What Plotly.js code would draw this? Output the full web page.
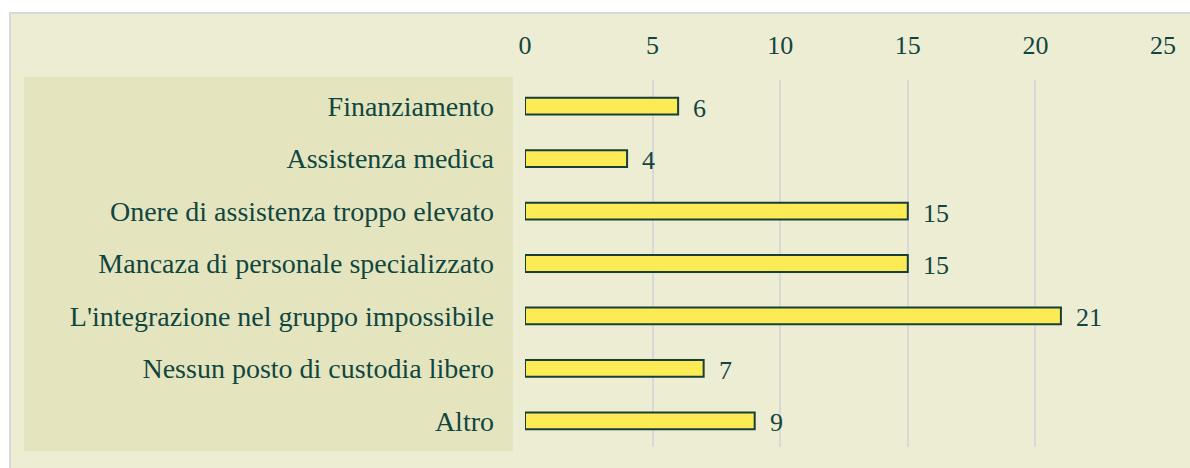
<!DOCTYPE html>
<html>
<head>
<meta charset="utf-8">
<script src="https://cdn.plot.ly/plotly-3.0.1.min.js"></script>
<style>
  html, body { margin: 0; padding: 0; background: #ffffff; }
  #chart { width: 1190px; height: 468px; }
</style>
</head>
<body>
<div id="chart"></div>
<script>
// ---- data ----
const categories = [
  "Finanziamento",
  "Assistenza medica",
  "Onere di assistenza troppo elevato",
  "Mancaza di personale specializzato",
  "L'integrazione nel gruppo impossibile",
  "Nessun posto di custodia libero",
  "Altro"
];
const values = [6, 4, 15, 15, 21, 7, 9];
const tickValues = [0, 5, 10, 15, 20, 25];

// ---- layout geometry (pixels) ----
const W = 1190, H = 468;
const M = { l: 525, r: 27, t: 80, b: 21 };
const pw = W - M.l - M.r, ph = H - M.t - M.b;
const px = x => (x - M.l) / pw;            // pixel x -> paper x
const py = y => 1 - (y - M.t) / ph;        // pixel y -> paper y

const textColor = "#11463f";
const fontFam = "Liberation Serif";

const trace = {
  type: "bar",
  orientation: "h",
  x: values,
  y: categories,
  width: 0.32,
  marker: { color: "#fdeb55", line: { color: "#173f3a", width: 2 } },
  hoverinfo: "none"
};

const annotations = values.map((v, i) => ({
  x: v, y: categories[i], xref: "x", yref: "y",
  text: String(v), showarrow: false,
  xanchor: "left", yanchor: "middle",
  xshift: 13, yshift: -2,
  font: { family: fontFam, size: 26, color: textColor }
}));

const layout = {
  width: W, height: H,
  margin: M,
  paper_bgcolor: "#ffffff",
  plot_bgcolor: "rgba(0,0,0,0)",
  showlegend: false,
  font: { family: fontFam, size: 26, color: textColor },
  xaxis: {
    side: "top",
    range: [0, 25],
    tickvals: tickValues,
    ticktext: tickValues.map(String),
    showgrid: true, gridcolor: "#d9d9d9", gridwidth: 2,
    zeroline: false, showline: false, ticks: "",
    ticklabelstandoff: 20,
    tickfont: { family: fontFam, size: 26, color: textColor },
    fixedrange: true
  },
  yaxis: {
    autorange: "reversed",
    type: "category",
    showgrid: false, zeroline: false, showline: false, ticks: "",
    ticklabelstandoff: 30,
    tickfont: { family: fontFam, size: 28, color: textColor },
    fixedrange: true
  },
  shapes: [
    { type: "rect", xref: "paper", yref: "paper", layer: "below",
      x0: px(10), x1: px(1210), y0: py(13), y1: py(490),
      fillcolor: "#ededd4", line: { color: "#d9d9d9", width: 2 } },
    { type: "rect", xref: "paper", yref: "paper", layer: "below",
      x0: px(24), x1: px(513), y0: py(77), y1: py(451),
      fillcolor: "#e4e5bf", line: { width: 0 } }
  ],
  annotations: annotations
};

Plotly.newPlot("chart", [trace], layout, { displayModeBar: false, staticPlot: true });
</script>
</body>
</html>
